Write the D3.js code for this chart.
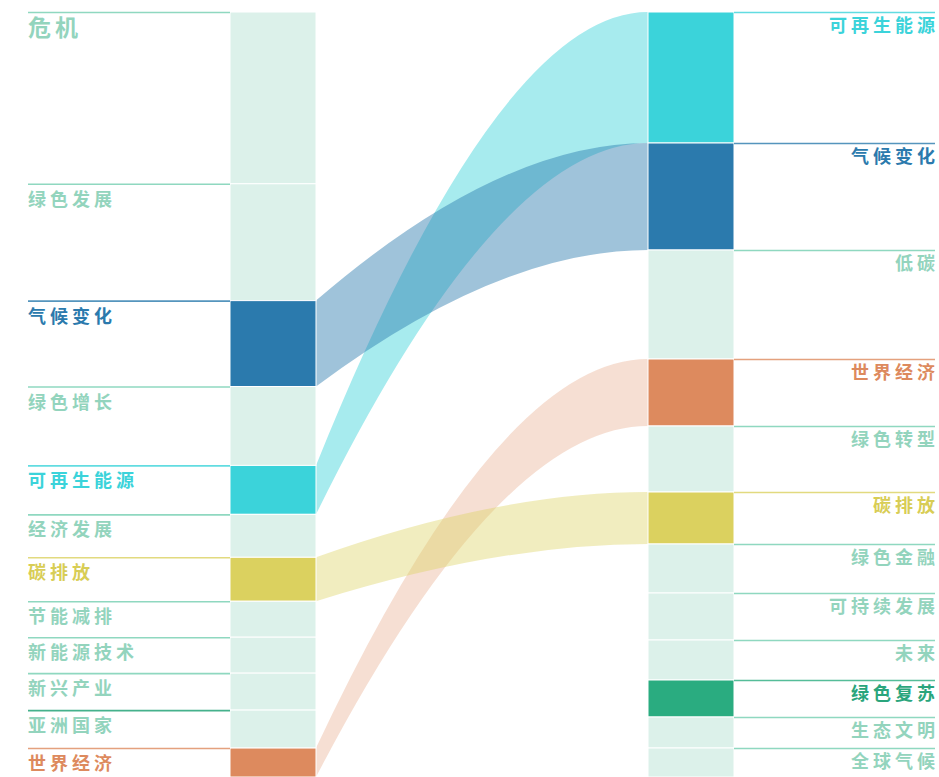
<!DOCTYPE html>
<html>
<head>
<meta charset="utf-8">
<script src="https://cdn.jsdelivr.net/npm/d3@7"></script>
<style>
  html, body { margin: 0; padding: 0; background: #fff; overflow: hidden; }
  svg { display: block; }
  text { font-family: "Noto Sans CJK SC", "Noto Sans", sans-serif; font-weight: 700; letter-spacing: 4px; }
</style>
</head>
<body>
<svg id="chart" width="939" height="777"></svg>
<script>
// Left column (earlier period) keywords and weights
const leftWords  = ["危机","绿色发展","气候变化","绿色增长","可再生能源","经济发展","碳排放","节能减排","新能源技术","新兴产业","亚洲国家","世界经济"];
const leftValues = [172, 117, 86, 79, 49, 43, 44, 36, 36, 37, 38, 29];
// Right column (later period) keywords and weights
const rightWords  = ["可再生能源","气候变化","低碳","世界经济","绿色转型","碳排放","绿色金融","可持续发展","未来","绿色复苏","生态文明","全球气候"];
const rightValues = [131, 107, 109, 67, 66, 52, 49, 47, 40, 37, 31, 29];
// Highlighted keywords
const highlightWords  = ["气候变化","可再生能源","碳排放","世界经济","绿色复苏"];
const highlightColors = ["#2b7aad","#3bd3da","#dbd15f","#dd8a5e","#2aac80"];

const W = 939, H = 777;
const yTop = 12, yBottom = 777;
const leftX0 = 230, leftX1 = 316, rightX0 = 648, rightX1 = 734;

const svg = d3.select("#chart");
const colorOf = d3.scaleOrdinal().domain(highlightWords).range(highlightColors).unknown(null);
const baseFill = "#dcf1ea", baseText = "#93d4bd", baseLine = "#8fd8c0";
const linkOpacity = { "可再生能源": 0.45, "气候变化": 0.45, "碳排放": 0.4, "世界经济": 0.27 };

function layout(words, values) {
  const total = d3.sum(values);
  const y = d3.scaleLinear().domain([0, total]).range([yTop, yBottom]);
  let acc = 0;
  return words.map((w, i) => {
    const n = { word: w, value: values[i], y0: y(acc), y1: y(acc + values[i]), rank: i };
    acc += values[i];
    return n;
  });
}
const L = layout(leftWords, leftValues);
const R = layout(rightWords, rightValues);

// Links between same words
const links = L.filter(l => R.some(r => r.word === l.word)).map(l => ({ word: l.word, s: l, t: R.find(r => r.word === l.word) }));
const kx = 0.55;
function linkPath(d) {
  const x0 = leftX1, x1 = rightX0, xc = x0 + kx * (x1 - x0);
  const p = d3.path();
  p.moveTo(x0, d.s.y0);
  p.quadraticCurveTo(xc, d.t.y0, x1, d.t.y0);
  p.lineTo(x1, d.t.y1);
  p.quadraticCurveTo(xc, d.t.y1, x0, d.s.y1);
  p.closePath();
  return p.toString();
}
const linkOrder = ["世界经济","碳排放","可再生能源","气候变化"];
svg.append("g").selectAll("path")
  .data(links.sort((a, b) => linkOrder.indexOf(a.word) - linkOrder.indexOf(b.word)))
  .join("path")
  .attr("d", linkPath)
  .attr("fill", d => colorOf(d.word))
  .attr("fill-opacity", d => linkOpacity[d.word]);

function drawColumn(nodes, x0, x1, side) {
  const g = svg.append("g");
  g.selectAll("rect").data(nodes).join("rect")
    .attr("x", x0).attr("y", d => d.y0)
    .attr("width", x1 - x0).attr("height", d => d.y1 - d.y0)
    .attr("fill", d => colorOf(d.word) || baseFill)
    .attr("stroke", "#fff").attr("stroke-width", 1);
  const lx0 = side === "left" ? 28 : x1;
  const lx1 = side === "left" ? x0 : 935;
  g.selectAll("line").data(nodes).join("line")
    .attr("x1", lx0).attr("x2", lx1)
    .attr("y1", d => d.y0 + 0.5).attr("y2", d => d.y0 + 0.5)
    .attr("stroke", d => {
      const c = colorOf(d.word);
      if (c) return d3.interpolateRgb(c, "#fff")(0.2);
      if (d.word === "亚洲国家") return "#45b18c";
      return baseLine;
    })
    .attr("stroke-width", 1.6);
  const off = side === "left" ? 22 : 20;
  g.selectAll("text").data(nodes).join("text")
    .attr("x", side === "left" ? 28 : 939)
    .attr("y", d => d.y0 + (d.value > 150 ? 24 : off))
    .attr("text-anchor", side === "left" ? "start" : "end")
    .attr("font-size", d => d.value > 150 ? 23 : 18)
    .attr("fill", d => {
      const c = colorOf(d.word);
      if (!c) return baseText;
      if (d.word === "碳排放") return "#d8cd55";
      if (d.word === "绿色复苏") return "#2aa57c";
      return c;
    })
    .text(d => d.word);
}
drawColumn(L, leftX0, leftX1, "left");
drawColumn(R, rightX0, rightX1, "right");
</script>
</body>
</html>
